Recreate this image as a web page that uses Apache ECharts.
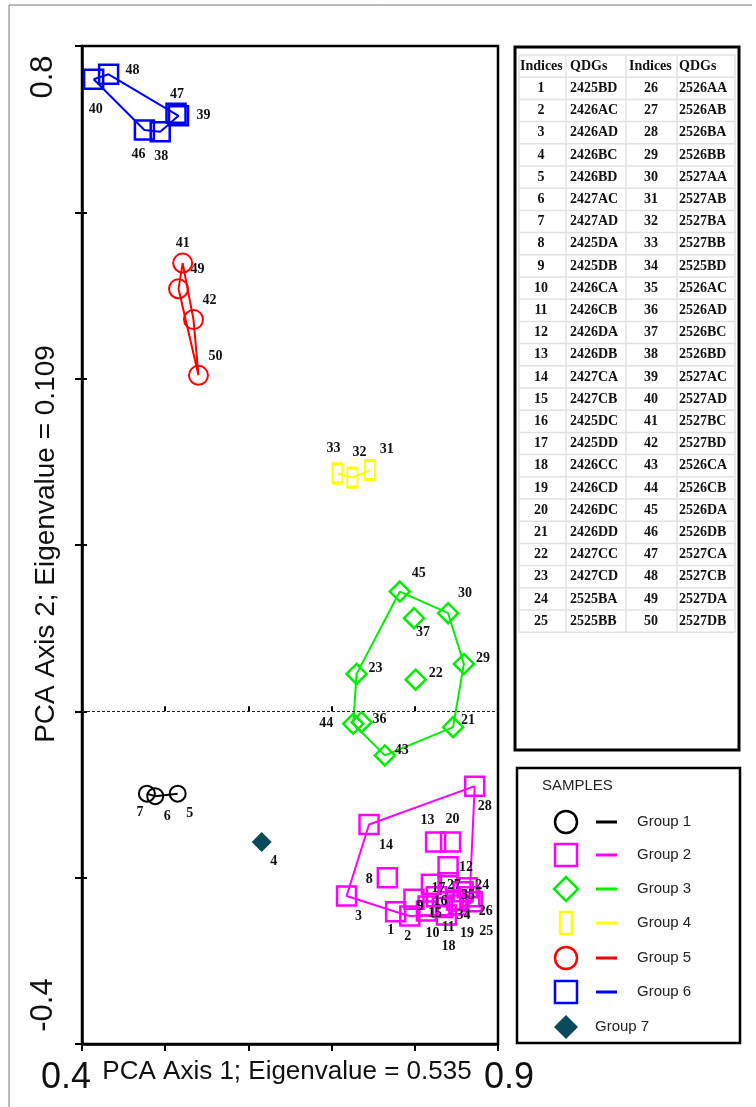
<!DOCTYPE html>
<html><head><meta charset="utf-8">
<script src="https://cdn.jsdelivr.net/npm/echarts@6/dist/echarts.min.js"></script>
<style>html,body{margin:0;padding:0;background:#fff}#c{width:756px;height:1107px}</style>
</head><body><div id="c"></div>
<script>
// ---------------- DATA ----------------
const ids = Array.from({length:50},(_,i)=>i+1);
const pc1 = [0.777,0.794,0.718,0.616,0.515,0.488,0.478,0.767,0.799,0.814,
             0.833,0.840,0.825,0.745,0.816,0.826,0.820,0.838,0.853,0.843,
             0.846,0.801,0.730,0.863,0.869,0.866,0.840,0.872,0.859,0.840,
             0.746,0.725,0.707,0.850,0.858,0.736,0.799,0.494,0.516,0.414,
             0.521,0.534,0.764,0.726,0.782,0.475,0.513,0.432,0.516,0.540];
const pc2 = [-0.241,-0.246,-0.222,-0.157,-0.099,-0.102,-0.099,-0.200,-0.226,-0.240,
             -0.236,-0.187,-0.157,-0.136,-0.234,-0.223,-0.208,-0.245,-0.233,-0.157,
             -0.019,0.038,0.045,-0.212,-0.229,-0.223,-0.206,-0.090,0.057,0.118,
             0.290,0.281,0.286,-0.227,-0.217,-0.013,0.112,0.697,0.716,0.760,
             0.539,0.471,-0.053,-0.015,0.144,0.699,0.719,0.766,0.508,0.404];
const groupOf = [2,2,2,7,1,1,1,2,2,2, 2,2,2,2,2,2,2,2,2,2,
                 3,3,3,2,2,2,2,2,3,3, 4,4,4,2,2,3,3,6,6,6,
                 5,5,3,3,3,6,6,6,5,5];
const qdgCodes = ['2425BD','2426AC','2426AD','2426BC','2426BD','2427AC','2427AD','2425DA','2425DB','2426CA',
                  '2426CB','2426DA','2426DB','2427CA','2427CB','2425DC','2425DD','2426CC','2426CD','2426DC',
                  '2426DD','2427CC','2427CD','2525BA','2525BB','2526AA','2526AB','2526BA','2526BB','2527AA',
                  '2527AB','2527BA','2527BB','2525BD','2526AC','2526AD','2526BC','2526BD','2527AC','2527AD',
                  '2527BC','2527BD','2526CA','2526CB','2526DA','2526DB','2527CA','2527CB','2527DA','2527DB'];
const groupNames = ['Group 1','Group 2','Group 3','Group 4','Group 5','Group 6','Group 7'];
const hullOrder = {1:[7,6,5], 2:[28,14,3,1,2,18,25,26,28], 3:[45,30,29,21,43,44,23,45],
                   4:[33,32,31], 5:[41,42,50,49,41], 6:[40,48,39,38,46,40]};
const xTickValues = [0.4,0.9], xTickLabels = ['0.4','0.9'];
const yTickValues = [0.8,-0.4], yTickLabels = ['0.8','-0.4'];
const xTitle = 'PCA Axis 1; Eigenvalue = 0.535';
const yTitle = 'PCA Axis 2; Eigenvalue = 0.109';
const tableHeaders = ['Indices','QDGs','Indices','QDGs'];
const legendTitle = 'SAMPLES';

// ---------------- STYLE ----------------
const gStyle = {
  1:{c:'#000000', sym:'circle', size:16, fill:false, bw:2},
  2:{c:'#ff00ff', sym:'rect', size:19, fill:false, bw:2.5},
  3:{c:'#00ee00', sym:'diamond', size:20, fill:false, bw:2.5},
  4:{c:'#ffff00', sym:'rect', size:[10,19], fill:false, bw:2.5},
  5:{c:'#ff0000', sym:'circle', size:19, fill:false, bw:2},
  6:{c:'#0000ff', sym:'rect', size:19, fill:false, bw:2.5},
  7:{c:'#0b4a5c', sym:'diamond', size:20, fill:true, bw:0}
};
const labelNudge = {1:[-5,19],2:[-2,20],3:[12,20],4:[12,19],5:[12,20],6:[12,20],7:[-7,19],8:[-18,2],
  9:[6,7],10:[6,22],11:[6,20],12:[18,1],13:[-8,-22],14:[17,21],15:[7,7],16:[4,5],17:[7,4],18:[2,31],
  19:[8,28],20:[2,-23],21:[15,-7],22:[20,-6],23:[19,-6],24:[15,-2],25:[14,30],26:[16,15],27:[6,3],
  28:[10,20],29:[19,-6],30:[17,-20],31:[17,-21],32:[7,-25],33:[-4,-25],34:[7,15],35:[5,4],36:[18,-3],
  37:[9,14],38:[1,25],39:[25,0],40:[2,30],41:[0,-20],42:[16,-19],43:[17,-5],44:[-27,0],45:[19,-18],
  46:[-6,24],47:[1,-19],48:[24,-4],49:[19,-19],50:[17,-19]};

const SANS = 'Liberation Sans, Arial, sans-serif';
const SERIF = 'Liberation Serif, Times New Roman, serif';

const chart = echarts.init(document.getElementById('c'), null, {renderer:'canvas'});

const series = [];
for (let g = 1; g <= 7; g++) {
  const s = gStyle[g];
  const members = ids.filter(i => groupOf[i-1] === g);
  if (hullOrder[g]) {
    series.push({
      type:'line', name:groupNames[g-1]+' hull', silent:true, z:2, clip:false,
      symbol:'none', data: hullOrder[g].map(i => [pc1[i-1], pc2[i-1]]),
      lineStyle:{color:s.c, width:2}, animation:false
    });
  }
  const sc = {
    type:'scatter', name:groupNames[g-1], z:4, animation:false, clip:false,
    symbol:s.sym, symbolSize:s.size,
    itemStyle:{color: s.fill ? s.c : 'rgba(255,255,255,0)', borderColor:s.c, borderWidth:s.bw, opacity:1},
    label:{show:true, position:'inside', formatter:p=>p.name, fontFamily:SERIF, fontWeight:'bold',
           fontSize:14, color:'#111', textBorderWidth:0},
    labelLayout: function (params) {
      const id = members[params.dataIndex];
      const n = labelNudge[id] || [0,0];
      return {dx:n[0], dy:n[1], hideOverlap:false};
    },
    data: members.map(i => ({name:String(i), value:[pc1[i-1], pc2[i-1]]}))
  };
  if (g === 7) {
    sc.markLine = {silent:true, symbol:['none','none'], label:{show:false}, animation:false,
      lineStyle:{type:[3,2], color:'#222', width:1.2}, data:[{yAxis:0}]};
  }
  series.push(sc);
}

const axisCommon = {
  splitLine:{show:false}, axisLabel:{show:false},
  axisLine:{show:true, onZero:false, lineStyle:{color:'#000', width:2.5}},
  axisTick:{show:true, length:7, lineStyle:{color:'#000', width:2}}
};
const innerTick = {
  splitLine:{show:false}, axisLabel:{show:false}, axisLine:{show:false},
  axisTick:{show:true, inside:true, length:5, lineStyle:{color:'#000', width:2}}
};

chart.setOption({
  backgroundColor:'#fff',
  animation:false,
  grid:{left:82, top:46, width:416, height:998, show:true, borderColor:'#000', borderWidth:2.5, backgroundColor:'transparent'},
  xAxis:[
    Object.assign({type:'value', min:0.4, max:0.9, interval:0.1, position:'bottom'}, axisCommon),
    Object.assign({type:'value', min:0.4, max:0.9, interval:0.1, position:'bottom'}, innerTick)
  ],
  yAxis:[
    Object.assign({type:'value', min:-0.4, max:0.8, interval:0.2, position:'left'}, axisCommon),
    Object.assign({type:'value', min:-0.4, max:0.8, interval:0.2, position:'left'}, innerTick)
  ],
  series: series
});

// ---------------- GRAPHICS: tick labels, titles, table, legend ----------------
const gfx = [];
gfx.push({type:'line', shape:{x1:9,y1:5,x2:752,y2:5}, style:{stroke:'#777', lineWidth:1}});
gfx.push({type:'line', shape:{x1:9,y1:5,x2:9,y2:1107}, style:{stroke:'#777', lineWidth:1}});

xTickValues.forEach((v, k) => {
  const p = chart.convertToPixel({gridIndex:0}, [v, -0.4]);
  gfx.push({type:'text', x: k === 0 ? p[0]+9 : p[0]-14, y: p[1]+34,
    style:{text:xTickLabels[k], font:'36px '+SANS, fill:'#111', align: k===0?'right':'left', verticalAlign:'middle'}});
});
yTickValues.forEach((v, k) => {
  const p = chart.convertToPixel({gridIndex:0}, [0.4, v]);
  gfx.push({type:'text', x: 43, y: k === 0 ? p[1]+31 : p[1]-39, rotation: Math.PI/2,
    style:{text:yTickLabels[k], font:'31px '+SANS, fill:'#111', align:'center', verticalAlign:'middle'}});
});
gfx.push({type:'text', x:287, y:1072, style:{text:xTitle, font:'26px '+SANS, fill:'#111', align:'center', verticalAlign:'middle'}});
gfx.push({type:'text', x:46, y:544, rotation:Math.PI/2,
  style:{text:yTitle, font:'28px '+SANS, fill:'#111', align:'center', verticalAlign:'middle'}});

// table
gfx.push({type:'rect', shape:{x:515, y:47, width:224, height:703}, style:{fill:'#fff', stroke:'#000', lineWidth:3}, z:1});
const rowH = 22.2, top0 = 55;
for (let k = 0; k <= 26; k++) {
  gfx.push({type:'line', shape:{x1:519, y1:top0+k*rowH, x2:735, y2:top0+k*rowH}, style:{stroke:'#e2e2e2', lineWidth:1.5}, z:2});
}
[519,566,626,677,735].forEach(x => gfx.push({type:'line', shape:{x1:x, y1:top0, x2:x, y2:top0+26*rowH}, style:{stroke:'#e2e2e2', lineWidth:1.5}, z:2}));
const tf = 'bold 14px '+SERIF;
[[520,'left'],[570,'left'],[629,'left'],[679,'left']].forEach((c, k) => {
  gfx.push({type:'text', x:c[0], y:top0+rowH/2, style:{text:tableHeaders[k], font:tf, fill:'#111', align:c[1], verticalAlign:'middle'}, z:3});
});
for (let r = 0; r < 25; r++) {
  const y = top0 + rowH*(r+1) + rowH/2;
  gfx.push({type:'text', x:541, y, style:{text:String(ids[r]), font:tf, fill:'#111', align:'center', verticalAlign:'middle'}, z:3});
  gfx.push({type:'text', x:570, y, style:{text:qdgCodes[r], font:tf, fill:'#111', align:'left', verticalAlign:'middle'}, z:3});
  gfx.push({type:'text', x:651, y, style:{text:String(ids[r+25]), font:tf, fill:'#111', align:'center', verticalAlign:'middle'}, z:3});
  gfx.push({type:'text', x:679, y, style:{text:qdgCodes[r+25], font:tf, fill:'#111', align:'left', verticalAlign:'middle'}, z:3});
}

// legend
gfx.push({type:'rect', shape:{x:517, y:768, width:223, height:275}, style:{fill:'#fff', stroke:'#000', lineWidth:2.5}, z:1});
gfx.push({type:'text', x:542, y:786, style:{text:legendTitle, font:'15px '+SANS, fill:'#222', align:'left', verticalAlign:'middle'}, z:3});
const legY = [822,855,889,923,958,992,1027];
const sx = 566;
for (let g = 1; g <= 7; g++) {
  const s = gStyle[g], y = legY[g-1];
  const st = {fill: s.fill ? s.c : 'none', stroke: s.fill ? null : s.c, lineWidth:2.5};
  if (s.sym === 'circle') gfx.push({type:'circle', shape:{cx:sx, cy:y, r:11}, style:st, z:3});
  else if (s.sym === 'diamond') gfx.push({type:'polygon', shape:{points:[[sx,y-12],[sx+12,y],[sx,y+12],[sx-12,y]]}, style:st, z:3});
  else if (g === 4) gfx.push({type:'rect', shape:{x:sx-6, y:y-11, width:12, height:22}, style:st, z:3});
  else gfx.push({type:'rect', shape:{x:sx-11, y:y-11, width:22, height:22}, style:st, z:3});
  if (hullOrder[g]) gfx.push({type:'line', shape:{x1:596, y1:y, x2:617, y2:y}, style:{stroke:s.c, lineWidth:3}, z:3});
  gfx.push({type:'text', x: hullOrder[g] ? 637 : 595, y, style:{text:groupNames[g-1], font:'15px '+SANS, fill:'#222', align:'left', verticalAlign:'middle'}, z:3});
}

chart.setOption({graphic:{elements:gfx}});
</script>
</body></html>
